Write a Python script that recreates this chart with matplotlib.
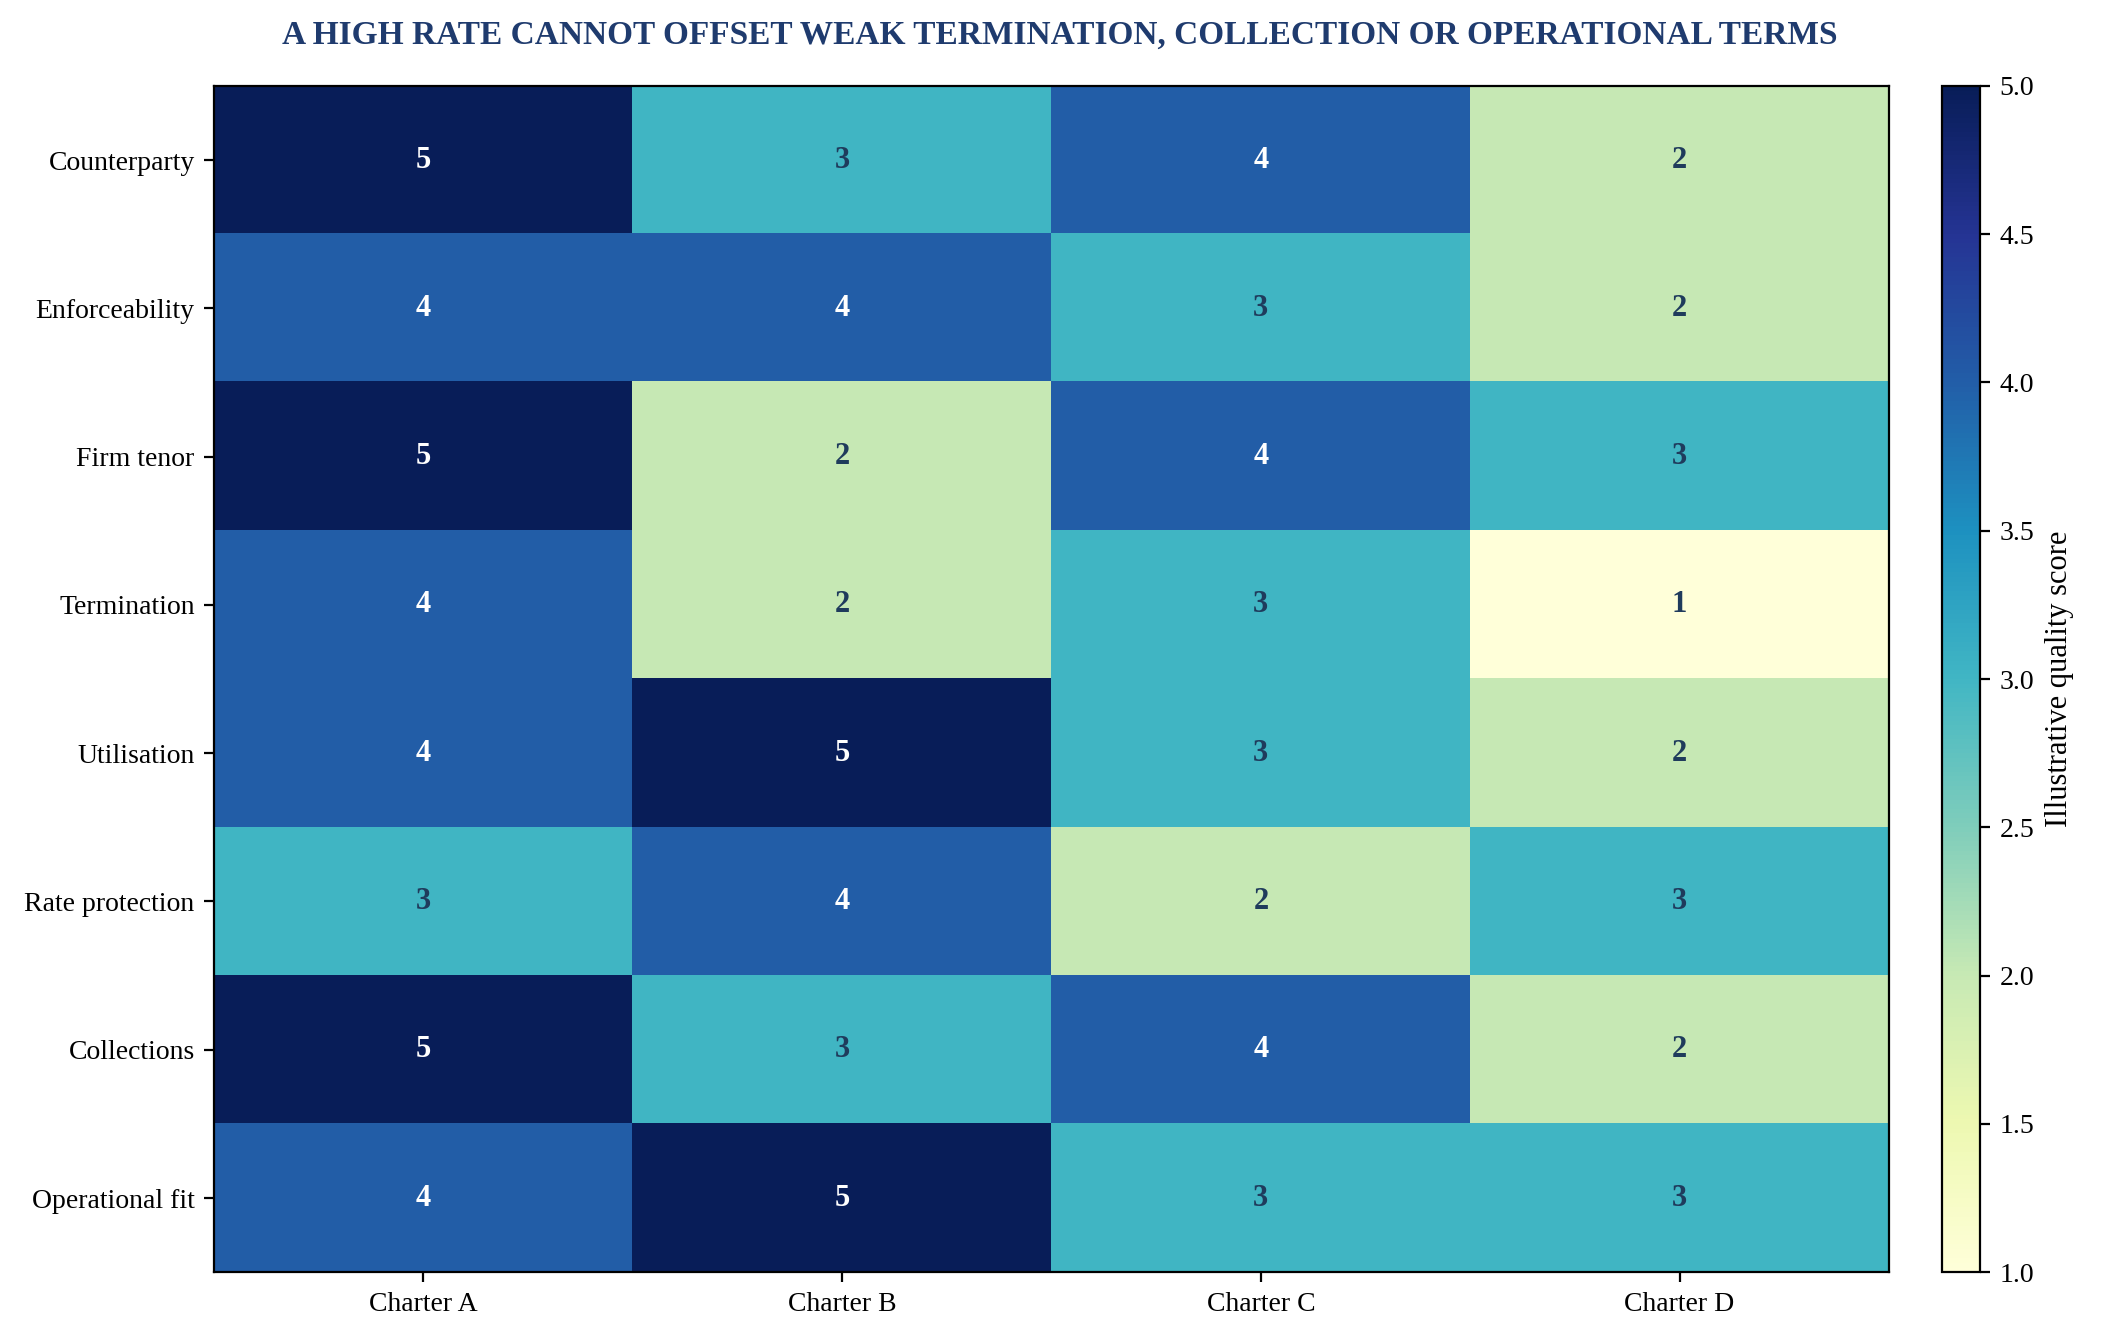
import matplotlib
matplotlib.use("Agg")
import matplotlib.pyplot as plt
import numpy as np

plt.rcParams['font.family'] = ['Liberation Serif', 'DejaVu Serif']

charters = ["Charter A", "Charter B", "Charter C", "Charter D"]
criteria = ["Counterparty", "Enforceability", "Firm tenor", "Termination",
            "Utilisation", "Rate protection", "Collections", "Operational fit"]
charter_a = [5, 4, 5, 4, 4, 3, 5, 4]
charter_b = [3, 4, 2, 2, 5, 4, 3, 5]
charter_c = [4, 3, 4, 3, 3, 2, 4, 3]
charter_d = [2, 2, 3, 1, 2, 3, 2, 3]

data = np.array([charter_a, charter_b, charter_c, charter_d]).T

fig = plt.figure(figsize=(10.6, 6.71), dpi=200)
ax = fig.add_axes([0.101, 0.052, 0.790, 0.884])
cax = fig.add_axes([0.916, 0.052, 0.018, 0.884])
im = ax.imshow(data, cmap="YlGnBu", vmin=1, vmax=5, aspect="auto")
ax.set_xticks(range(len(charters)))
ax.set_xticklabels(charters, fontsize=10)
ax.set_yticks(range(len(criteria)))
ax.set_yticklabels(criteria, fontsize=10)
for i in range(data.shape[0]):
    for j in range(data.shape[1]):
        v = data[i, j]
        ax.text(j, i, str(v), ha="center", va="center", fontsize=11, fontweight="bold",
                color="white" if v >= 4 else "#1f3b5c")
cb = fig.colorbar(im, cax=cax)
cb.set_label("Illustrative quality score", fontsize=11)
cb.ax.tick_params(labelsize=10)
fig.suptitle("A HIGH RATE CANNOT OFFSET WEAK TERMINATION, COLLECTION OR OPERATIONAL TERMS",
             fontsize=12, fontweight="bold", color="#1f3b6e", y=0.985)
fig.savefig("out.png", dpi=200)
